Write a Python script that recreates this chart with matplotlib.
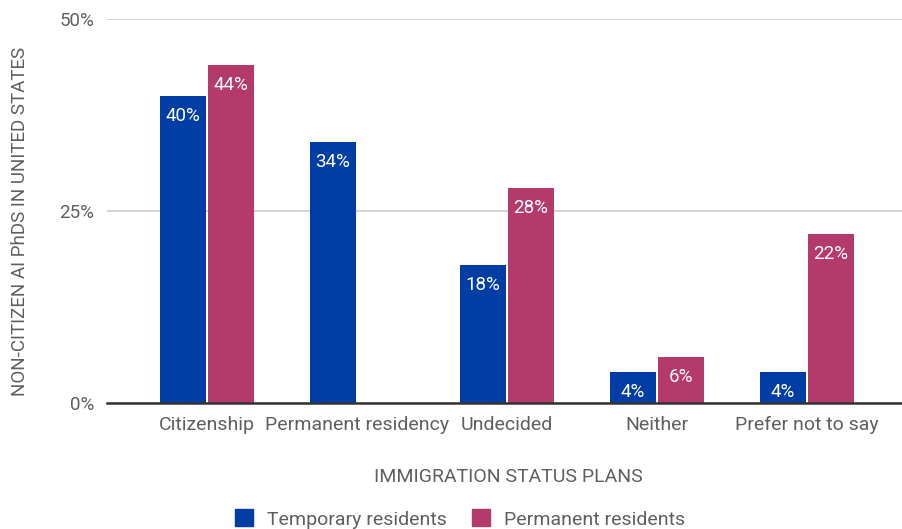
import matplotlib
matplotlib.use("Agg")
import matplotlib.pyplot as plt
from matplotlib.patches import Patch
import numpy as np

plt.rcParams['font.family'] = ['Roboto', 'DejaVu Sans']

categories = ["Citizenship", "Permanent residency", "Undecided", "Neither", "Prefer not to say"]
temporary = [40, 34, 18, 4, 4]
permanent = [44, None, 28, 6, 22]
series_names = ["Temporary residents", "Permanent residents"]
yticks = [0, 25, 50]
ytick_labels = ["0%", "25%", "50%"]

blue = "#003da5"
magenta = "#b43a6b"
text_gray = "#5f5f5f"

W, H = 903, 529
fig = plt.figure(figsize=(W / 100, H / 100), dpi=100)
ax = fig.add_axes([107 / W, (H - 403) / H, (W - 107) / W, (403 - 19) / H])

x = np.arange(len(categories))
bw = 0.305
off = 0.16

for i in range(len(categories)):
    for val, dx, col in [(temporary[i], -off, blue), (permanent[i], off, magenta)]:
        if val is None:
            continue
        ax.bar(x[i] + dx, val, width=bw, color=col, zorder=3)
        ax.text(x[i] + dx, val - 2.6, f"{val}%", ha="center", va="center",
                color="white", fontsize=13.5, zorder=4)

ax.set_ylim(0, 50)
ax.set_xlim(-100 / 150, (W - 207) / 150)
ax.set_yticks(yticks)
ax.set_yticklabels(ytick_labels)
ax.set_xticks(x)
ax.set_xticklabels(categories)
ax.tick_params(axis="both", length=0, colors=text_gray, labelsize=13.5)
ax.tick_params(axis="y", pad=9)
ax.tick_params(axis="x", pad=9)
for lab in ax.get_xticklabels():
    lab.set_fontsize(14)

for s in ["top", "right", "left"]:
    ax.spines[s].set_visible(False)
ax.spines["bottom"].set_color("#333333")
ax.spines["bottom"].set_linewidth(1.8)
ax.spines["bottom"].set_zorder(5)

ax.yaxis.grid(True, color="#cccccc", linewidth=1.2, zorder=0)
ax.set_axisbelow(True)

fig.text(20 / W, 1 - 221 / H, "NON-CITIZEN AI PhDS IN UNITED STATES", rotation=90,
         ha="center", va="center", color=text_gray, fontsize=13.5)
fig.text(508 / W, 1 - 477 / H, "IMMIGRATION STATUS PLANS", ha="center", va="center",
         color=text_gray, fontsize=14)

handles = [Patch(facecolor=blue, edgecolor=blue), Patch(facecolor=magenta, edgecolor=magenta)]
fig.legend(handles, series_names, loc="center", bbox_to_anchor=(460 / W, 1 - 519 / H),
           ncol=2, frameon=False, fontsize=14, handlelength=0.95, handleheight=0.95,
           handletextpad=0.7, columnspacing=1.3, labelcolor=text_gray)

fig.savefig("out.png", dpi=100)
